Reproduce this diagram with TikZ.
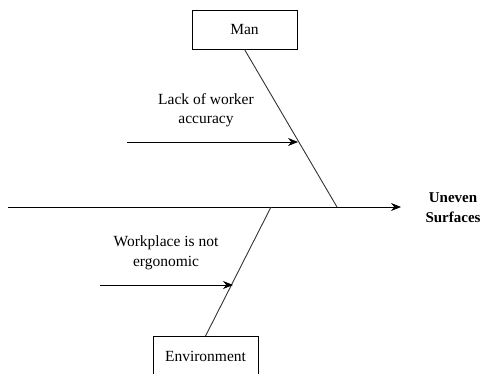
\documentclass[tikz,border=0pt]{standalone}
\usepackage{fontspec}
\setmainfont{Liberation Serif}
\usetikzlibrary{arrows.meta}
\begin{document}
\begin{tikzpicture}[x=1pt,y=-1pt,
  cat/.style={draw,line width=0.9pt,minimum width=105pt,minimum height=39pt,inner sep=0pt,font=\fontsize{15.5}{19}\selectfont},
  lbl/.style={align=center,inner sep=0pt,font=\fontsize{15.5}{19.5}\selectfont},
  bone/.style={line width=0.9pt,draw=black!80},
  arr/.style={line width=0.9pt,-{Stealth[length=10pt,width=8pt]}}]
\useasboundingbox (0,0) rectangle (484,374);
\node[cat] (man) at (244.5,29.5) {Man};
\node[cat] (env) at (205.5,356) {Environment};
\coordinate (s0) at (8,207);
\coordinate (s1) at (401,207);
\coordinate (jm) at (337,207);
\coordinate (je) at (271,207);
\node[lbl,font=\bfseries\fontsize{15}{20}\selectfont] (eff) at (453,208) {Uneven\\Surfaces};
\draw[arr] (s0) -- (s1);
\draw[bone] (man.south) -- (jm);
\draw[bone] (env.north) -- (je);
\node[lbl] (c1) at (206,110) {Lack of worker\\accuracy};
\node[lbl] (c2) at (166,253) {Workplace is not\\ergonomic};
\coordinate (a1s) at (127,142);
\coordinate (a1e) at (298,142);
\coordinate (a2s) at (100,285);
\coordinate (a2e) at (233,285);
\draw[arr] (a1s) -- (a1e);
\draw[arr] (a2s) -- (a2e);
\end{tikzpicture}
\end{document}
